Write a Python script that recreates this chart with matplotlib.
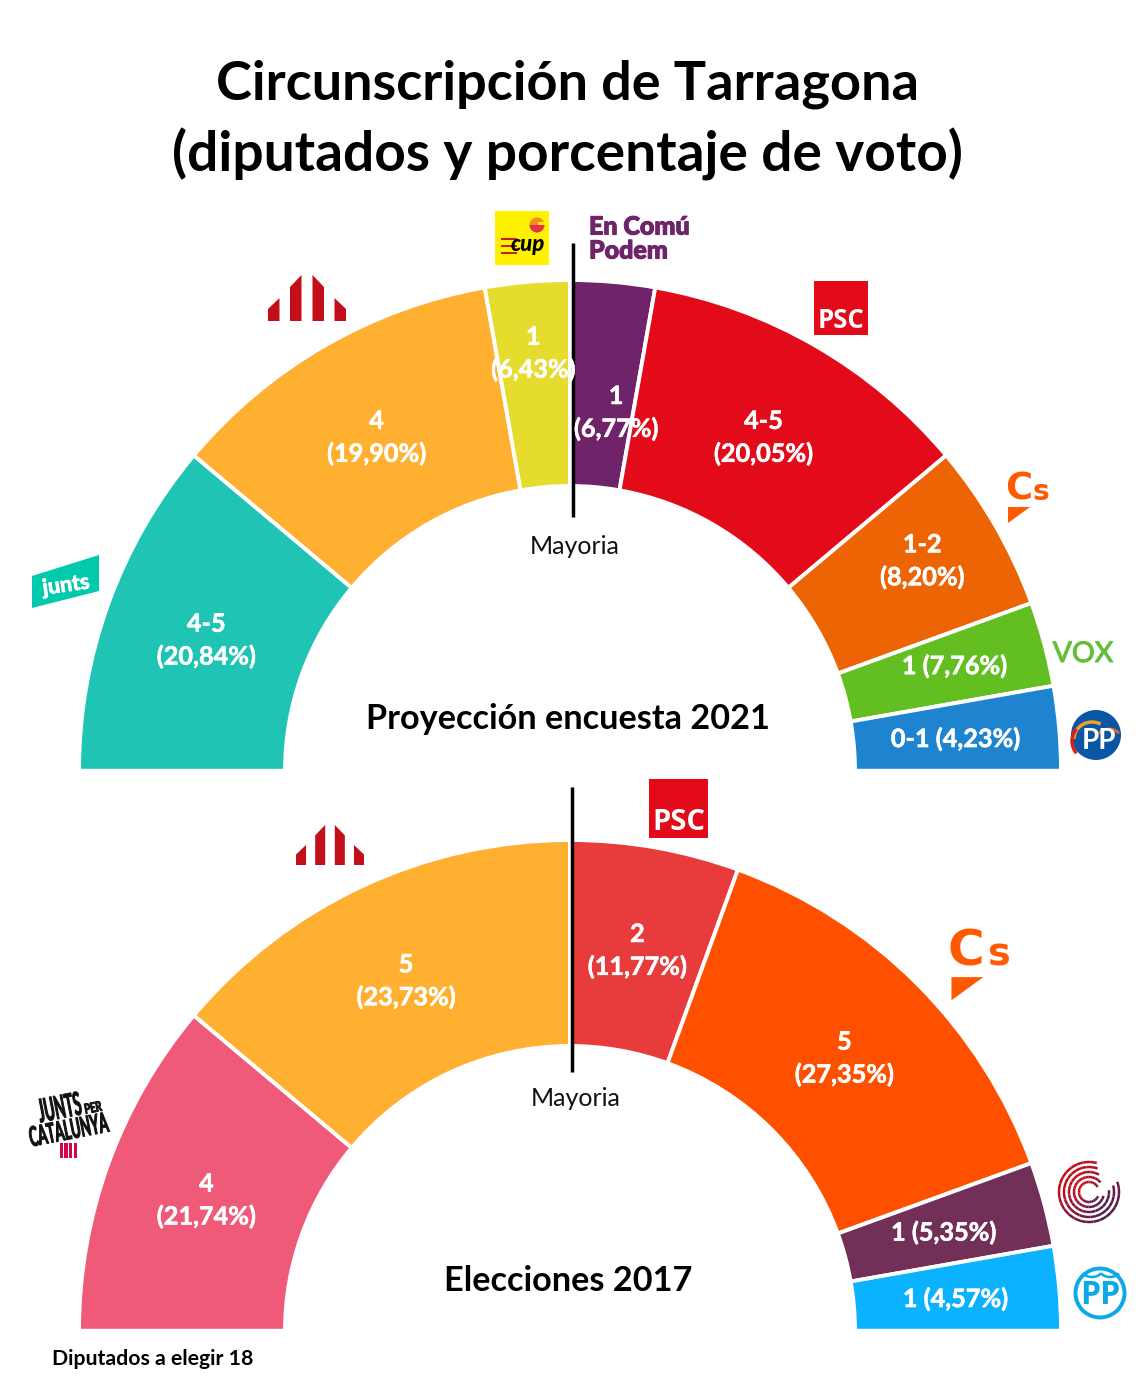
import numpy as np
import matplotlib
matplotlib.use("Agg")
import matplotlib.pyplot as plt
from matplotlib.patches import Wedge, Polygon, Circle, Rectangle, Arc
from matplotlib.patheffects import AbstractPathEffect, withStroke
from matplotlib.transforms import Affine2D

plt.rcParams['font.family'] = ['Lato', 'DejaVu Sans']

# 2021 projection
seats_2021 = [4, 4, 1, 1, 4, 2, 1, 1]
labels_2021 = ["4-5\n(20,84%)", "4\n(19,90%)", "1\n(6,43%)", "1\n(6,77%)",
               "4-5\n(20,05%)", "1-2\n(8,20%)", "1 (7,76%)", "0-1 (4,23%)"]
colors_2021 = ["#20C4B4", "#FFB030", "#E5DC2E", "#6F2469",
               "#E30A1A", "#EC6403", "#63BE21", "#1E84D0"]
radii_2021 = [387, 387, 421, 363, 387, 411, 399, 387]
shift_2021 = [0, 0, 0, 2.3, 0, -1, -0.5, 0]

# 2017 results
seats_2017 = [4, 5, 2, 5, 1, 1]
labels_2017 = ["4\n(21,74%)", "5\n(23,73%)", "2\n(11,77%)", "5\n(27,35%)",
               "1 (5,35%)", "1 (4,57%)"]
colors_2017 = ["#EF5A78", "#FFB030", "#E83B3B", "#FF5000", "#722F58", "#0BB2FF"]
radii_2017 = [387, 388, 388, 388, 387, 387]
shift_2017 = [0, 0, 0, 0, 0, 0]

fig = plt.figure(figsize=(11.4, 13.9), dpi=100)
ax = fig.add_axes([0, 0, 1, 1])
ax.set_xlim(0, 1140)
ax.set_ylim(1390, 0)  # pixel coordinates, y goes down
ax.axis("off")


def hemicycle(cy, seats, labels, colors, radii, shifts):
    cx = 570
    deg = 180 / sum(seats)
    start = 180
    for s, lab, col, r, sh in zip(seats, labels, colors, radii, shifts):
        end = start + s * deg
        ax.add_patch(Wedge((cx, cy), 491, start, end, width=206, facecolor=col,
                           edgecolor="white", linewidth=2.8))
        mid = np.radians((start + end) / 2 + sh)
        ax.text(cx + r * np.cos(mid), cy + 2 + r * np.sin(mid), lab, color="white",
                fontsize=18.2, fontweight="bold", ha="center", va="center",
                linespacing=1.48, zorder=6,
                path_effects=[withStroke(linewidth=0.4, foreground="white")])
        start = end


hemicycle(771, seats_2021, labels_2021, colors_2021, radii_2021, shift_2021)
hemicycle(1331, seats_2017, labels_2017, colors_2017, radii_2017, shift_2017)

# cover the part below the base line
ax.add_patch(Rectangle((0, 769), 1140, 5, color="white", zorder=3))
ax.add_patch(Rectangle((0, 1329), 1140, 5, color="white", zorder=3))

# majority lines
ax.plot([573, 573], [243, 517], color="black", lw=2.5, zorder=5, solid_capstyle="butt")
ax.plot([572, 572], [787, 1072], color="black", lw=2.5, zorder=5, solid_capstyle="butt")
ax.text(575, 546, "Mayoria", fontsize=18, ha="center", va="center", color="#111111")
ax.text(576, 1098, "Mayoria", fontsize=18, ha="center", va="center", color="#111111")

# titles
ax.text(567, 84, "Circunscripción de Tarragona", fontsize=39, fontweight="bold",
        ha="center", va="center", color="black")
ax.text(567, 154, "(diputados y porcentaje de voto)", fontsize=39.6, fontweight="bold",
        ha="center", va="center", color="black")
ax.text(568, 719, "Proyección encuesta 2021", fontsize=24.7, fontweight="bold",
        ha="center", va="center", color="black")
ax.text(568, 1281, "Elecciones 2017", fontsize=24.7, fontweight="bold",
        ha="center", va="center", color="black")
ax.text(52, 1359, "Diputados a elegir 18", fontsize=15.3, fontweight="bold",
        ha="left", va="center", color="black")


class Squeeze(AbstractPathEffect):
    # stretches a text around its anchor along its own rotated axes, for the narrow logo lettering
    def __init__(self, x, y, sx, sy, angle, lw=0.7):
        super().__init__()
        self.x, self.y, self.sx, self.sy, self.angle, self.lw = x, 1390 - y, sx, sy, angle, lw

    def draw_path(self, renderer, gc, tpath, affine, rgbFace=None):
        extra = (Affine2D().translate(-self.x, -self.y).rotate_deg(-self.angle)
                 .scale(self.sx, self.sy).rotate_deg(self.angle).translate(self.x, self.y))
        gc.set_linewidth(self.lw)
        renderer.draw_path(gc, tpath, affine + extra, rgbFace)


def narrow_text(x, y, s, size, sx, sy, angle):
    ax.text(x, y, s, color="#111111", fontsize=size, fontweight="bold", rotation=angle,
            rotation_mode="anchor", ha="center", va="center",
            path_effects=[Squeeze(x, y, sx, sy, angle)])


def erc_logo(x, y, w, col="#C30F19"):
    # four bars with slanted tops, y is the baseline and w the total width
    k = w / 78
    for x0, h1, h2 in [(0, 12, 23), (22, 34, 46), (44.5, 46, 34), (66.5, 23, 12)]:
        ax.add_patch(Polygon([(x + x0 * k, y), (x + (x0 + 11.5) * k, y),
                              (x + (x0 + 11.5) * k, y - h2 * k), (x + x0 * k, y - h1 * k)],
                             color=col, lw=0))


def psc_logo(x, y, w, h, size):
    ax.add_patch(Rectangle((x, y), w, h, color="#E30A1A", lw=0))
    ax.text(x + w / 2, y + h * 0.73, "PSC", color="white", fontsize=size, fontweight="bold",
            family=["Open Sans", "DejaVu Sans"], ha="center", va="center")


def cs_logo(x, y, size, k):
    col = "#FF5A00"
    ax.text(x - 2 * k, y, "C", color=col, fontsize=size, fontweight="bold",
            family=["DejaVu Sans"], ha="left", va="center")
    ax.text(x + 26 * k, y + 3 * k, "s", color=col, fontsize=size * 0.76, fontweight="bold",
            family=["DejaVu Sans"], ha="left", va="center")
    ax.add_patch(Polygon([(x + 1 * k, y + 18 * k), (x + 23 * k, y + 18 * k), (x + 1 * k, y + 34 * k)],
                         color=col, lw=0))


# 2021 logos
ax.add_patch(Polygon([(32, 576), (99, 555), (99, 591), (32, 608)], color="#00C9AC", lw=0))
ax.text(66, 585, "junts", color="white", fontsize=15.5, fontweight="bold", rotation=8,
        ha="center", va="center", path_effects=[withStroke(linewidth=0.6, foreground="white")])
erc_logo(268, 321, 78)

ax.add_patch(Rectangle((495, 211), 54, 54, color="#FFF200", lw=0))
ax.add_patch(Wedge((537, 225), 7.5, 180, 360, color="#F58A20", lw=0))
ax.add_patch(Wedge((537, 225), 7.5, 0, 180, color="#E8304E", lw=0))
ax.add_patch(Rectangle((538, 221.5), 7, 3, color="#FFF200", lw=0))
for yy in [238, 245, 252]:
    ax.add_patch(Rectangle((501, yy), 16, 2.2, color="#C8202A", lw=0))
ax.text(528, 244.5, "cup", color="black", fontsize=16, fontweight="black", style="italic",
        ha="center", va="center")

for yy, word in [(227, "En Comú"), (251, "Podem")]:
    ax.text(589, yy, word, color="#6F2469", fontsize=18, fontweight="black", ha="left", va="center",
            path_effects=[withStroke(linewidth=0.8, foreground="#6F2469")])
psc_logo(814, 281, 54, 54, 18.5)
cs_logo(1007, 489, 26.6, 1)
ax.text(1083, 654, "VOX", color="#63BE3A", fontsize=20.5, ha="center", va="center",
        path_effects=[withStroke(linewidth=0.7, foreground="#63BE3A")])

ax.add_patch(Circle((1096, 735), 25, color="#0A56A5", lw=0))
ax.add_patch(Arc((1092, 739), 36, 34, theta1=180, theta2=300, color="#F0A030", lw=2.5))
ax.add_patch(Arc((1091, 741), 38, 38, theta1=140, theta2=220, color="#D8201E", lw=2.5))
ax.add_patch(Arc((1109, 737), 22, 16, theta1=200, theta2=340, color="#E8602A", lw=2))
ax.text(1099, 741, "PP", color="white", fontsize=20, fontweight="bold", ha="center", va="center")

# 2017 logos
narrow_text(60, 1110, "JUNTS", 11, 0.92, 2.1, 11)
narrow_text(93, 1108, "PER", 8, 0.85, 1.25, 11)
narrow_text(69, 1132, "CATALUNYA", 11, 0.87, 1.8, 11)
for xx in [59.5, 64.2, 68.9, 73.6]:
    ax.add_patch(Rectangle((xx, 1143), 3.4, 15, color="#D0034F", lw=0))

erc_logo(296, 865, 68)
psc_logo(649, 779, 59, 59, 21)
cs_logo(950, 951, 36, 1.45)

# Comu spiral, rings fade from red at the top left to dark purple at the bottom right
c1 = np.array([0.78, 0.05, 0.10])
c2 = np.array([0.33, 0.11, 0.30])
for r, gap in zip([10, 15, 20, 25, 30], [330, 320, 300, 290, 285]):
    a = np.linspace(gap + 55, gap + 360, 25)
    for a0, a1 in zip(a[:-1], a[1:]):
        t = 0.5 + 0.5 * np.cos(np.radians((a0 + a1) / 2 - 45))
        ax.add_patch(Arc((1089, 1192), 2 * r, 2 * r, theta1=a0, theta2=a1,
                         color=c1 * (1 - t) + c2 * t, lw=1.8))

ax.add_patch(Circle((1100, 1293), 24.5, facecolor="white", edgecolor="#0BA9E5", lw=2.8))
ax.add_patch(Arc((1092, 1270), 20, 14, theta1=20, theta2=160, color="#0BA9E5", lw=1.8))
ax.add_patch(Arc((1110, 1270), 20, 14, theta1=20, theta2=160, color="#0BA9E5", lw=1.8))
ax.text(1100, 1296, "PP", color="#0BA9E5", fontsize=23, fontweight="bold",
        family=["Open Sans", "DejaVu Sans"], ha="center", va="center")

fig.savefig("out.png", dpi=100, facecolor="white")
